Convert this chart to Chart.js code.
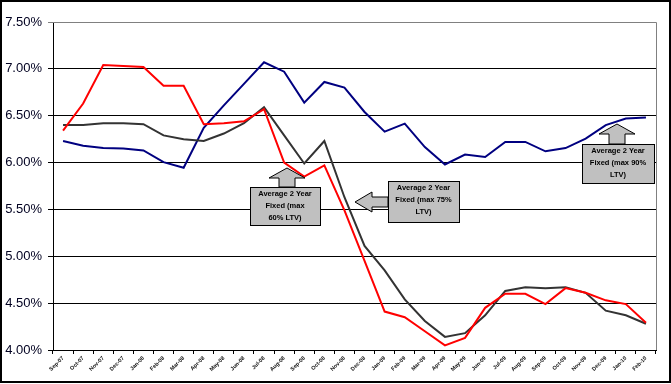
<!DOCTYPE html>
<html>
<head>
<meta charset="utf-8">
<script src="https://cdn.jsdelivr.net/npm/chart.js@4/dist/chart.umd.min.js"></script>
<style>
  body { margin: 0; background: #fff; }
  #wrap { width: 671px; height: 384px; }
</style>
</head>
<body>
<div id="wrap"><canvas id="chart" width="671" height="384"></canvas></div>
<script>
// monthly labels, Sep-07 .. Feb-10
const months = ['Sep-07', 'Oct-07', 'Nov-07', 'Dec-07', 'Jan-08', 'Feb-08', 'Mar-08', 'Apr-08', 'May-08', 'Jun-08',
  'Jul-08', 'Aug-08', 'Sep-08', 'Oct-08', 'Nov-08', 'Dec-08', 'Jan-09', 'Feb-09', 'Mar-09', 'Apr-09',
  'May-09', 'Jun-09', 'Jul-09', 'Aug-09', 'Sep-09', 'Oct-09', 'Nov-09', 'Dec-09', 'Jan-10', 'Feb-10']

// average 2 year fixed rates (%)
const fixed60 = [6.34, 6.63, 7.04, 7.03, 7.02, 6.82, 6.82, 6.41, 6.42, 6.44,
  6.57, 6.00, 5.85, 5.97, 5.49, 4.95, 4.41, 4.35, 4.20, 4.05,
  4.13, 4.45, 4.60, 4.60, 4.49, 4.66, 4.61, 4.53, 4.49, 4.29]
const fixed75 = [6.40, 6.40, 6.42, 6.42, 6.41, 6.29, 6.25, 6.23, 6.31, 6.42,
  6.59, 6.29, 5.99, 6.23, 5.63, 5.11, 4.85, 4.54, 4.31, 4.14,
  4.18, 4.37, 4.63, 4.67, 4.66, 4.67, 4.61, 4.42, 4.37, 4.28]
const fixed90 = [6.23, 6.18, 6.155, 6.15, 6.13, 6.005, 5.945, 6.37, 6.61, 6.84,
  7.07, 6.97, 6.64, 6.86, 6.80, 6.54, 6.33, 6.415, 6.165, 5.98,
  6.085, 6.06, 6.22, 6.22, 6.12, 6.155, 6.255, 6.40, 6.47, 6.48]

const yTicks = [4.0, 4.5, 5.0, 5.5, 6.0, 6.5, 7.0, 7.5]

// callout boxes with arrows (pixel layout, not data)
const callouts = [
  { lines: ['Average 2 Year', 'Fixed (max', '60% LTV)'], box: [250, 187, 70, 38], dir: 'up', tip: [287, 168] },
  { lines: ['Average 2 Year', 'Fixed (max 75%', 'LTV)'], box: [388, 181, 71, 41], dir: 'left', tip: [355, 202] },
  { lines: ['Average 2 Year', 'Fixed (max 90%', 'LTV)'], box: [582, 144, 72, 39], dir: 'up', tip: [617, 124] }
]

const decorPlugin = {
  id: 'decor',
  afterDatasetsDraw(chart) {
    const ctx = chart.ctx
    const a = chart.chartArea
    ctx.save()
    // gray frame on top and right of plot
    ctx.strokeStyle = '#808080'
    ctx.lineWidth = 1
    ctx.beginPath()
    ctx.moveTo(a.left, a.top + 0.5)
    ctx.lineTo(a.right + 0.5, a.top + 0.5)
    ctx.lineTo(a.right + 0.5, a.bottom)
    ctx.stroke()

    callouts.forEach(c => {
      const [bx, by, bw, bh] = c.box
      const [tx, ty] = c.tip
      ctx.fillStyle = '#c0c0c0'
      ctx.strokeStyle = '#000'
      ctx.lineWidth = 1
      // arrow shape
      ctx.beginPath()
      if (c.dir === 'up') {
        const hb = ty + 10
        ctx.moveTo(tx, ty)
        ctx.lineTo(tx + 18, hb)
        ctx.lineTo(tx + 8, hb)
        ctx.lineTo(tx + 8, by)
        ctx.lineTo(tx - 8, by)
        ctx.lineTo(tx - 8, hb)
        ctx.lineTo(tx - 18, hb)
      } else {
        const hb = tx + 17
        ctx.moveTo(tx, ty)
        ctx.lineTo(hb, ty - 10)
        ctx.lineTo(hb, ty - 5)
        ctx.lineTo(bx, ty - 5)
        ctx.lineTo(bx, ty + 5)
        ctx.lineTo(hb, ty + 5)
        ctx.lineTo(hb, ty + 10)
      }
      ctx.closePath()
      ctx.fill()
      ctx.stroke()
      ctx.fillRect(bx, by, bw, bh)
      ctx.strokeRect(bx + 0.5, by + 0.5, bw, bh)
      ctx.fillStyle = '#000'
      ctx.font = '900 7.5px Arial'
      ctx.textAlign = 'center'
      ctx.textBaseline = 'middle'
      c.lines.forEach((t, i) => {
        ctx.fillText(t, bx + bw / 2, by + 7 + i * 12)
      })
    })

    // outer border
    ctx.strokeStyle = '#000'
    ctx.lineWidth = 2
    ctx.strokeRect(1, 1, chart.width - 2, chart.height - 3)
    ctx.restore()
  }
}

new Chart(document.getElementById('chart'), {
  type: 'line',
  data: {
    labels: months,
    datasets: [
      { label: 'Average 2 Year Fixed (max 60% LTV)', data: fixed60, borderColor: '#ff0000' },
      { label: 'Average 2 Year Fixed (max 75% LTV)', data: fixed75, borderColor: '#333333' },
      { label: 'Average 2 Year Fixed (max 90% LTV)', data: fixed90, borderColor: '#000080' }
    ]
  },
  options: {
    responsive: false,
    animation: false,
    devicePixelRatio: 1,
    layout: { padding: { left: 0, top: 22, right: 15, bottom: 0 } },
    elements: {
      line: { borderWidth: 2, tension: 0, fill: false },
      point: { radius: 0 }
    },
    plugins: {
      legend: { display: false },
      tooltip: { enabled: false }
    },
    scales: {
      x: {
        offset: true,
        grid: { drawOnChartArea: false, drawTicks: true, tickLength: 4, color: '#000', offset: true },
        border: { color: '#000', width: 1 },
        ticks: {
          autoSkip: false,
          minRotation: 45,
          maxRotation: 45,
          padding: 1,
          color: '#111',
          font: { family: 'Arial', size: 5.5, weight: 'bold' }
        },
        afterFit(scale) { scale.height = 34 }
      },
      y: {
        min: 4,
        max: 7.5,
        afterBuildTicks(scale) { scale.ticks = yTicks.map(v => ({ value: v })) },
        grid: {
          color: ctx => (ctx.tick && ctx.tick.value === 7.5 ? '#808080' : '#000'),
          lineWidth: 1,
          tickLength: 5
        },
        border: { color: '#000', width: 1 },
        ticks: {
          padding: 6,
          color: '#000020',
          font: { family: 'Arial', size: 13 },
          callback: v => v.toFixed(2) + '%'
        },
        afterFit(scale) { scale.width = 53 }
      }
    }
  },
  plugins: [decorPlugin]
})
</script>
</body>
</html>
